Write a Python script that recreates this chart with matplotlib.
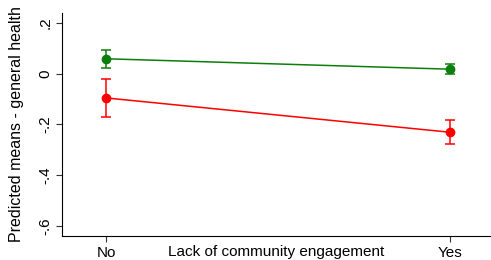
import matplotlib.pyplot as plt
import numpy as np

plt.rcParams['font.family'] = ['Liberation Sans', 'DejaVu Sans']

categories = ["No", "Yes"]
green_mean = [0.058, 0.017]
green_lo = [0.021, -0.003]
green_hi = [0.092, 0.039]
red_mean = [-0.096, -0.231]
red_lo = [-0.171, -0.277]
red_hi = [-0.020, -0.184]

x = np.arange(len(categories))

fig = plt.figure(figsize=(4.91, 2.60), dpi=100)
ax = fig.add_axes([0.1263, 0.0923, 0.8717, 0.8577])

for mean, lo, hi, col in [(green_mean, green_lo, green_hi, '#0b7f0b'),
                          (red_mean, red_lo, red_hi, '#ff0000')]:
    mean = np.array(mean)
    err = [mean - np.array(lo), np.array(hi) - mean]
    ax.errorbar(x, mean, yerr=err, color=col, marker='o', markersize=6,
                lw=1.1, elinewidth=1.1, capsize=3.5, capthick=1.1)

ax.set_xlim(-0.128, 1.116)
ax.set_ylim(-0.639, 0.238)
ax.set_xticks(x)
ax.set_xticklabels(categories)
ax.set_yticks([0.2, 0, -0.2, -0.4, -0.6])
ax.set_yticklabels(['.2', '0', '-.2', '-.4', '-.6'], rotation=90, va='center')
ax.tick_params(labelsize=11, length=4, width=0.8, color='#333333', pad=3)
ax.spines['top'].set_visible(False)
ax.spines['right'].set_visible(False)
ax.set_ylabel('Predicted means - general health', fontsize=11.5, labelpad=10)
ax.set_xlabel('Lack of community engagement', fontsize=11, labelpad=-10.5)

fig.savefig('out.png', dpi=100)
